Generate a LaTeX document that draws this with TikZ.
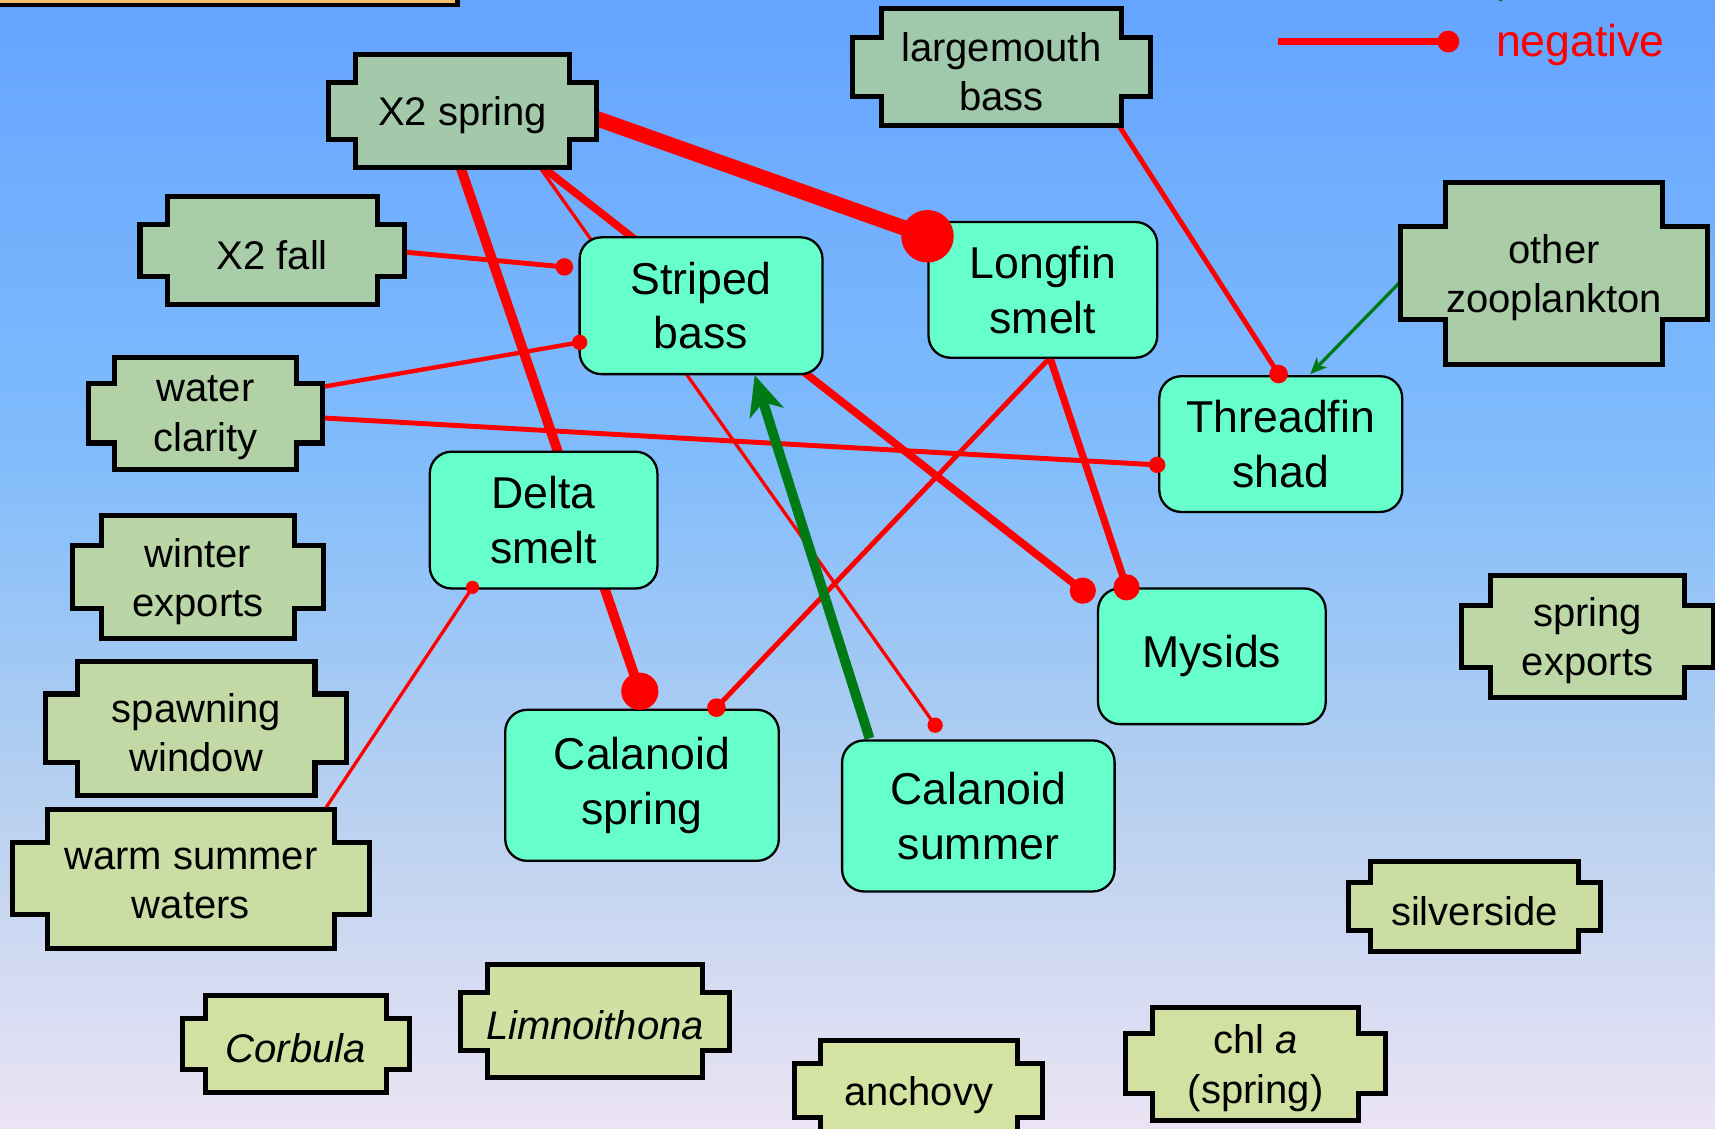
\documentclass[tikz,border=0pt]{standalone}
\usepackage{fontspec}
\setmainfont{Liberation Sans}
\usetikzlibrary{arrows.meta}
\pgfdeclarelayer{bg}
\pgfdeclarelayer{edges}
\pgfdeclarelayer{front}
\pgfsetlayers{bg,edges,main,front}
\definecolor{bgtop}{RGB}{100,164,255}
\definecolor{bgmA}{RGB}{128,188,252}
\definecolor{bgmB}{RGB}{182,208,240}
\definecolor{bgbot}{RGB}{236,228,244}
\definecolor{gA}{RGB}{160,200,170}
\definecolor{gB}{RGB}{212,226,162}
\definecolor{aqua}{RGB}{102,255,204}
\definecolor{grn}{RGB}{0,122,20}
\definecolor{orng}{RGB}{243,190,110}
\pgfdeclareverticalshading{bgsh}{100bp}{color(0bp)=(bgbot); color(25bp)=(bgbot); color(40bp)=(bgmB); color(55bp)=(bgmA); color(75bp)=(bgtop); color(100bp)=(bgtop)}
\tikzset{
  plq/.style={draw=black, line width=0.46mm, line join=miter},
  plqtext/.style={inner sep=0pt, align=center, font=\fontsize{10.4}{12.8}\selectfont, text=black},
  cyanbox/.style={draw=black, fill=aqua, line width=0.6pt, rounded corners=2mm, align=center, inner sep=0pt, font=\fontsize{11.6}{14.2}\selectfont},
  negline/.style={draw=red, line cap=butt},
  posline/.style={draw=grn, line cap=butt},
}
% #1 name, #2 fill, #3 cx, #4 cy, #5 narrow half-w, #6 narrow half-h, #7 wide half-w, #8 wide half-h, #9 text
\newcommand\plaque[9]{%
  \draw[plq, fill=#2] ({#3-#5},{#4-#6}) -- ({#3+#5},{#4-#6}) -- ({#3+#5},{#4-#8}) -- ({#3+#7},{#4-#8})
    -- ({#3+#7},{#4+#8}) -- ({#3+#5},{#4+#8}) -- ({#3+#5},{#4+#6}) -- ({#3-#5},{#4+#6})
    -- ({#3-#5},{#4+#8}) -- ({#3-#7},{#4+#8}) -- ({#3-#7},{#4-#8}) -- ({#3-#5},{#4-#8}) -- cycle;
  \node[plqtext, minimum width={2*#5*0.01cm}, minimum height={2*#6*0.01cm}] (#1) at (#3,{#4+4}) {#9};}
% #1 width, #2 dot radius, #3 start, #4 end
\newcommand\negedge[4]{%
  \begin{pgfonlayer}{edges}\draw[negline, line width=#1] #3 -- #4;\end{pgfonlayer}
  \begin{pgfonlayer}{front}\fill[red] #4 circle[radius=#2];\end{pgfonlayer}}
\begin{document}
\begin{tikzpicture}[x=0.01cm, y=-0.01cm]
\useasboundingbox (0,0) rectangle (1568,1032);
\begin{pgfonlayer}{bg}
  \shade[shading=bgsh] (-5,-5) rectangle (1573,1037);
  \fill[black] (-10,-10) rectangle (421,6.5);
  \fill[orng] (-10,-10) rectangle (416,3);
  \draw[grn, line width=0.3mm] (1371,-6) -- (1372,1);
\end{pgfonlayer}

% notched boxes
\plaque{lm}{gA}{915.5}{61.5}{109.5}{53.5}{136}{27}{largemouth\\bass}
\plaque{x2s}{gA!95!gB}{423}{101.5}{98}{51.5}{122.5}{26}{X2 spring}
\plaque{x2f}{gA!82!gB}{249}{229}{96}{49}{121}{23.5}{X2 fall}
\plaque{oz}{gA!80!gB}{1421}{250}{99}{83}{140.5}{42.5}{other\\zooplankton}
\plaque{wc}{gA!66!gB}{188}{378}{83.5}{51}{107}{27}{water\\clarity}
\plaque{we}{gA!50!gB}{181}{527.5}{88}{56.5}{115}{29}{winter\\exports}
\plaque{se}{gA!44!gB}{1451.5}{582}{88.5}{56}{115.5}{28.5}{spring\\exports}
\plaque{sw}{gA!35!gB}{179.5}{666}{108.5}{61}{137.5}{31.5}{spawning\\window}
\plaque{ws}{gA!21!gB}{174.5}{803.5}{131.5}{63.5}{163}{33}{warm summer\\waters}
\plaque{si}{gA!18!gB}{1348}{829}{95}{41}{115}{22}{silverside}
\plaque{li}{gA!7!gB}{544}{933.5}{98.5}{51.5}{123}{26.5}{\itshape Limnoithona}
\plaque{co}{gA!5!gB}{270.5}{954.5}{82.5}{44.5}{103.5}{23}{\itshape Corbula}
\plaque{ch}{gA!3!gB}{1148}{972.5}{94}{51.5}{119}{27.5}{chl \textit{a}\\(spring)}
\plaque{an}{gB}{840}{997}{90}{46}{113.5}{25}{anchovy}

% cyan boxes
\node[cyanbox, minimum width=2.22cm, minimum height=1.25cm] (sb) at (641,279.5) {Striped\\bass};
\node[cyanbox, minimum width=2.09cm, minimum height=1.24cm] (lf) at (953.5,265) {Longfin\\smelt};
\node[cyanbox, minimum width=2.22cm, minimum height=1.24cm] (ts) at (1171,406) {Threadfin\\shad};
\node[cyanbox, minimum width=2.08cm, minimum height=1.25cm] (ds) at (497,475.5) {Delta\\smelt};
\node[cyanbox, minimum width=2.08cm, minimum height=1.24cm] (my) at (1108,600) {Mysids};
\node[cyanbox, minimum width=2.50cm, minimum height=1.38cm] (cs) at (587,718) {Calanoid\\spring};
\node[cyanbox, minimum width=2.49cm, minimum height=1.38cm] (cu) at (894.5,746) {Calanoid\\summer};

% legend
\node[inner sep=0pt, text=red, font=\fontsize{11.6}{14}\selectfont] (negtxt) at (1445,41) {negative};
\coordinate (legstart) at (1168,38);
\negedge{0.7mm}{1mm}{(legstart)}{([shift={(-43,-3)}]negtxt.west)}

% negative connectors
\negedge{1.4mm}{2.4mm}{([shift={(120,2)}]x2s.center)}{([shift={(-105.5,-49)}]lf.center)}
\negedge{0.9mm}{1.7mm}{([shift={(-3,44.5)}]x2s.center)}{([shift={(-2,-86)}]cs.center)}
\negedge{0.7mm}{1.2mm}{([shift={(67,42.5)}]x2s.center)}{([shift={(-118,-60)}]my.center)}
\negedge{0.3mm}{0.7mm}{([shift={(67,42.5)}]x2s.center)}{([shift={(-39.5,-83)}]cu.center)}
\negedge{0.45mm}{0.8mm}{([shift={(116,-3)}]x2f.center)}{([shift={(-125,-35.5)}]sb.center)}
\negedge{0.4mm}{0.7mm}{([shift={(105,-28)}]wc.center)}{([shift={(-111,33.5)}]sb.center)}
\negedge{0.45mm}{0.75mm}{([shift={(105,0)}]wc.center)}{([shift={(-113,19)}]ts.center)}
\negedge{0.45mm}{0.85mm}{([shift={(102.5,41.5)}]lm.center)}{([shift={(-2,-64)}]ts.center)}
\negedge{0.45mm}{0.85mm}{([shift={(6.5,62)}]lf.center)}{([shift={(68,-71)}]cs.center)}
\negedge{0.65mm}{1.2mm}{([shift={(6.5,62)}]lf.center)}{([shift={(-78,-63)}]my.center)}
\negedge{0.3mm}{0.6mm}{([shift={(120.5,-64.5)}]ws.center)}{([shift={(-65,61.5)}]ds.center)}

% positive connectors
\begin{pgfonlayer}{edges}
\draw[posline, line width=0.3mm, -{Stealth[length=1.5mm, width=1.3mm, inset=0.4mm]}]
  ([shift={(-141,4)}]oz.center) -- ([shift={(27,-64)}]ts.center);
\draw[posline, line width=0.9mm, -{Stealth[length=3.6mm, width=3.2mm, inset=1mm]}]
  ([shift={(-99.5,-71)}]cu.center) -- ([shift={(49,63.5)}]sb.center);
\end{pgfonlayer}
\end{tikzpicture}
\end{document}
